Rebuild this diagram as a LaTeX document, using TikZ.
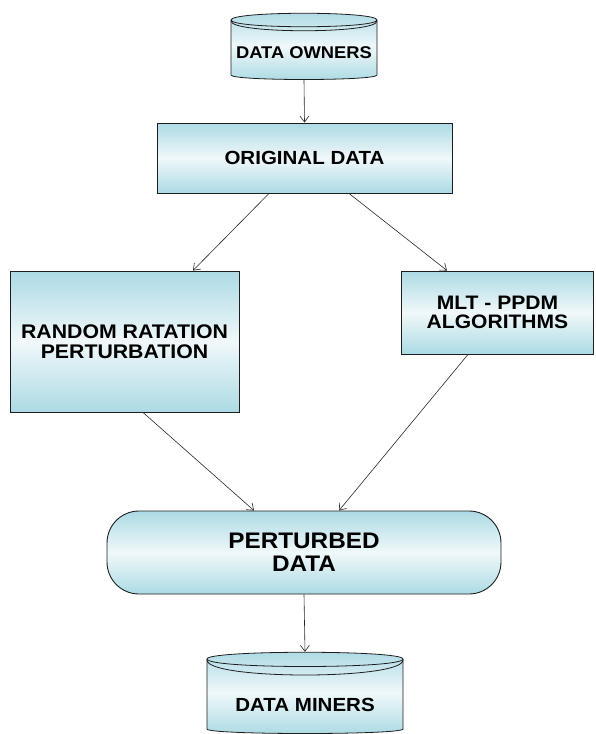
\documentclass[tikz,border=0pt]{standalone}
\usepackage{fontspec}
\usetikzlibrary{arrows.meta,calc}
\newfontfamily\labfont[FakeStretch=1.08]{Liberation Sans}

\definecolor{edgeblue}{RGB}{172,218,228}
\definecolor{coreblue}{RGB}{240,248,250}
\definecolor{rimline}{RGB}{30,30,30}
\definecolor{linkgray}{RGB}{40,40,40}

\tikzset{
  fillgrad/.style={top color=edgeblue, bottom color=edgeblue, middle color=coreblue},
  boxnode/.style={fillgrad, draw=rimline, line width=0.9pt, align=center,
    inner sep=0pt, font=\labfont\bfseries},
  lbl/.style={align=center, inner sep=0pt, font=\labfont\bfseries},
  link/.style={draw=linkgray, line width=0.6pt,
    -{Straight Barb[length=6pt,width=9pt]}}
}

\begin{document}
\begin{tikzpicture}[x=1pt,y=-1pt]
\useasboundingbox (0,0) rectangle (595,734);

% ---- top cylinder: DATA OWNERS ----
\shade[fillgrad] (231,20) .. controls (231,11) and (377,11) .. (377,20)
  -- (377,75) .. controls (377,81) and (231,81) .. (231,75) -- cycle;
\draw[rimline, line width=0.8pt]
  (231,20) .. controls (231,11) and (377,11) .. (377,20)
  -- (377,75) .. controls (377,81) and (231,81) .. (231,75) -- cycle;
\draw[rimline, line width=0.8pt] (231,20) .. controls (231,29) and (377,29) .. (377,20);
\draw[rimline, line width=0.8pt] (231,21) .. controls (231,34) and (377,34) .. (377,21);
\node[lbl, minimum width=146, minimum height=54, font=\labfont\bfseries\fontsize{17}{17}\selectfont]
  (owners) at (304,53) {DATA OWNERS};

% ---- process boxes ----
\node[boxnode, minimum width=295, minimum height=70,
  font=\labfont\bfseries\fontsize{19}{19}\selectfont]
  (orig) at (304.5,158) {ORIGINAL DATA};

\node[boxnode, minimum width=229, minimum height=141,
  font=\labfont\bfseries\fontsize{19.7}{20}\selectfont]
  (rand) at (124.5,341.5) {RANDOM RATATION\\PERTURBATION};

\node[boxnode, minimum width=192, minimum height=83,
  font=\labfont\bfseries\fontsize{19.5}{18.5}\selectfont]
  (mlt) at (497.5,312.5) {MLT - PPDM\\ALGORITHMS};

\node[boxnode, rounded corners=32, minimum width=394, minimum height=83,
  font=\labfont\bfseries\fontsize{22.5}{23}\selectfont]
  (pert) at (304,552.5) {PERTURBED\\DATA};

% ---- bottom cylinder: DATA MINERS ----
\shade[fillgrad] (207,659) .. controls (207,650) and (403,650) .. (403,659)
  -- (403,729) .. controls (403,735) and (207,735) .. (207,729) -- cycle;
\draw[rimline, line width=0.8pt]
  (207,659) .. controls (207,650) and (403,650) .. (403,659)
  -- (403,729) .. controls (403,735) and (207,735) .. (207,729) -- cycle;
\draw[rimline, line width=0.8pt] (207,659) .. controls (207,669) and (403,669) .. (403,659);
\draw[rimline, line width=0.8pt] (207,660) .. controls (207,680) and (403,680) .. (403,660);
\node[lbl, minimum width=196, minimum height=106, font=\labfont\bfseries\fontsize{19}{19}\selectfont]
  (miners) at (305,705) {DATA MINERS};

% ---- connectors ----
\draw[link] (owners.south) -- (orig.north);
\draw[link] ([xshift=-35.5pt]orig.south) -- ([xshift=68.5pt]rand.north);
\draw[link] ([xshift=44.5pt]orig.south) -- ([xshift=-50.5pt]mlt.north);
\draw[link] ([xshift=18.5pt]rand.south) -- ([xshift=-50pt]pert.north);
\draw[link] ([xshift=-29.5pt]mlt.south) -- ([xshift=35pt]pert.north);
\draw[link] (pert.south) -- (miners.north);
\end{tikzpicture}
\end{document}
